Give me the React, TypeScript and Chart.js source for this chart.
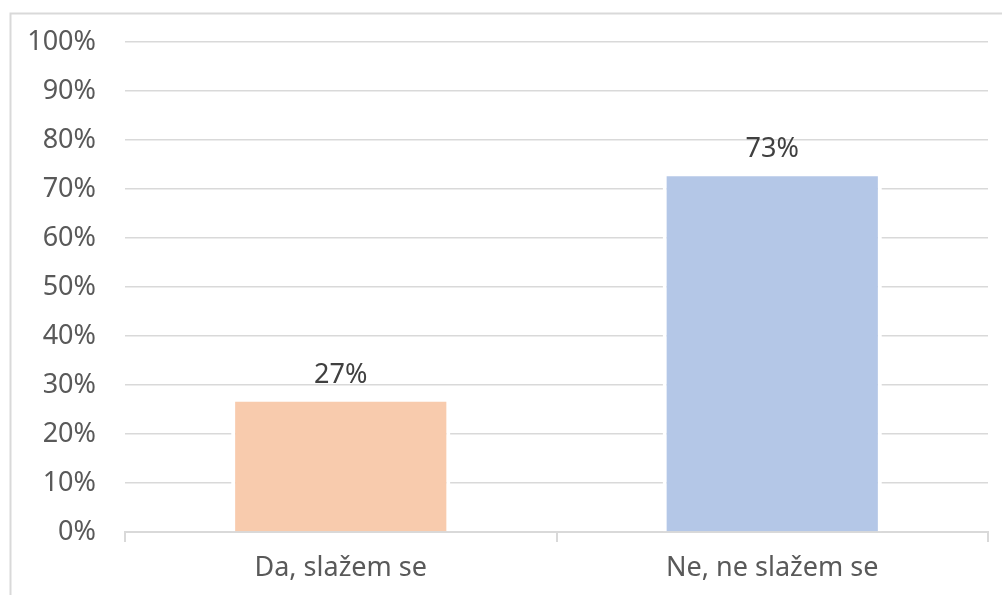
import React, { useEffect, useRef } from "react";
import { Chart, registerables } from "chart.js";

Chart.register(...registerables);

const categories = ["Da, slažem se", "Ne, ne slažem se"];
const values = [27, 73];
const valueLabels = ["27%", "73%"];
const barColors = ["#F8CBAD", "#B4C7E7"];
const yTicks = [0, 10, 20, 30, 40, 50, 60, 70, 80, 90, 100];

const FONT = "'Noto Sans', sans-serif";
const FONT_SIZE = 27;

export default function App() {
  const ref = useRef<HTMLCanvasElement | null>(null);

  useEffect(() => {
    if (!ref.current) return;
    const frame = {
      id: "frame",
      beforeDraw(chart: any) {
        const ctx = chart.ctx;
        ctx.save();
        ctx.strokeStyle = "#D9D9D9";
        ctx.lineWidth = 2;
        ctx.beginPath();
        ctx.moveTo(10.5, 700);
        ctx.lineTo(10.5, 13.5);
        ctx.lineTo(1100, 13.5);
        ctx.stroke();
        ctx.restore();
      },
    };
    const dataLabels = {
      id: "dataLabels",
      afterDatasetsDraw(chart: any) {
        const ctx = chart.ctx;
        const meta = chart.getDatasetMeta(0);
        ctx.save();
        ctx.font = `${FONT_SIZE}px ${FONT}`;
        ctx.fillStyle = "#404040";
        ctx.textAlign = "center";
        ctx.textBaseline = "alphabetic";
        meta.data.forEach((el: any, i: number) => {
          ctx.fillText(valueLabels[i], el.x, el.y - 17);
        });
        ctx.restore();
      },
    };
    const chart = new Chart(ref.current, {
      type: "bar",
      data: {
        labels: categories,
        datasets: [
          {
            data: values,
            backgroundColor: barColors,
            borderColor: "#FFFFFF",
            borderWidth: { top: 2, left: 4, right: 4, bottom: 0 } as any,
            borderSkipped: false as any,
            categoryPercentage: 1,
            barPercentage: 0.508,
          },
        ],
      },
      options: {
        responsive: false,
        animation: false,
        layout: { padding: { top: 42, right: 14, left: 0, bottom: 0 } },
        plugins: {
          legend: { display: false },
          tooltip: { enabled: false },
        },
        scales: {
          x: {
            offset: true,
            grid: {
              offset: true,
              drawOnChartArea: false,
              drawTicks: true,
              tickLength: 10,
              color: "#D9D9D9",
              lineWidth: 2,
            },
            border: { display: true, color: "#D9D9D9", width: 2 },
            ticks: {
              color: "#595959",
              font: { family: FONT, size: FONT_SIZE },
              padding: 10,
            },
            afterFit(scale: any) {
              scale.height = 63;
              scale.paddingLeft = 0;
              scale.paddingRight = 0;
            },
          },
          y: {
            min: 0,
            max: 100,
            afterBuildTicks(scale: any) {
              scale.ticks = yTicks.map((v) => ({ value: v }));
            },
            grid: {
              drawTicks: false,
              color: "#D9D9D9",
              lineWidth: 1.5,
            },
            border: { display: false },
            ticks: {
              color: "#595959",
              font: { family: FONT, size: FONT_SIZE },
              padding: 29,
              callback: (v: any) => `${v}%`,
            },
            afterFit(scale: any) {
              scale.width = 125;
              scale.paddingTop = 0;
              scale.paddingBottom = 0;
            },
          },
        },
      },
      plugins: [frame, dataLabels],
    });
    return () => chart.destroy();
  }, []);

  return (
    <div style={{ position: "fixed", left: 0, top: 0, width: 1002, height: 595, background: "#FFFFFF" }}>
      <canvas ref={ref} width={1002} height={595} />
    </div>
  );
}
